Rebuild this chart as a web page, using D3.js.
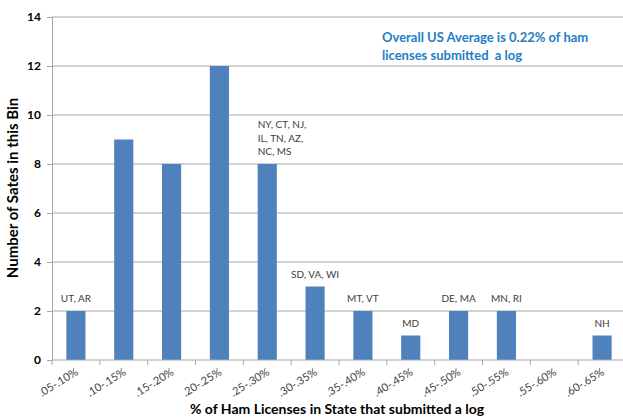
<!DOCTYPE html>
<html>
<head>
<meta charset="utf-8">
<script src="https://cdn.jsdelivr.net/npm/d3@7"></script>
<style>
  html, body { margin: 0; padding: 0; background: #fff; }
  svg { display: block; }
</style>
</head>
<body>
<svg id="chart" width="623" height="420"></svg>
<script>
// Histogram bins (% of licensees in a state that submitted a log)
const bins = [".05-.10%", ".10-.15%", ".15-.20%", ".20-.25%", ".25-.30%", ".30-.35%",
              ".35-.40%", ".40-.45%", ".45-.50%", ".50-.55%", ".55-.60%", ".60-.65%"];
// Number of states falling in each bin
const counts = [2, 9, 8, 12, 8, 3, 2, 1, 2, 2, 0, 1];
// State names noted above selected bins
const stateNotes = [
  { bin: ".05-.10%", lines: ["UT, AR"] },
  { bin: ".25-.30%", lines: ["NY, CT, NJ,", "IL, TN, AZ,", "NC, MS"], left: true },
  { bin: ".30-.35%", lines: ["SD, VA, WI"] },
  { bin: ".35-.40%", lines: ["MT, VT"] },
  { bin: ".40-.45%", lines: ["MD"] },
  { bin: ".45-.50%", lines: ["DE, MA"] },
  { bin: ".50-.55%", lines: ["MN, RI"] },
  { bin: ".60-.65%", lines: ["NH"] }
];
const yTicks = [0, 2, 4, 6, 8, 10, 12, 14];
const noteLines = ["Overall US Average is 0.22% of ham", "licenses submitted  a log"];

const svg = d3.select("#chart");
const m = { left: 52, right: 626, top: 17, bottom: 360 };
const font = "Lato, 'Open Sans', sans-serif";

const x = d3.scaleBand().domain(bins).range([m.left, m.right]).paddingInner(0.6).paddingOuter(0.3);
const xb = d3.scaleBand().domain(bins).range([m.left, m.right]);
const y = d3.scaleLinear().domain([0, 14]).range([m.bottom, m.top]);

// horizontal gridlines
svg.append("g")
  .selectAll("line").data(yTicks.filter(d => d > 0)).join("line")
  .attr("x1", m.left).attr("x2", 623)
  .attr("y1", d => y(d)).attr("y2", d => y(d))
  .attr("stroke", "#a6a6a6").attr("stroke-width", 1);

// y axis
const yAxis = svg.append("g").attr("transform", `translate(${m.left},0)`)
  .call(d3.axisLeft(y).tickValues(yTicks).tickSize(5).tickPadding(6));
yAxis.select(".domain").attr("stroke", "#a6a6a6");
yAxis.selectAll(".tick line").attr("stroke", "#a6a6a6");
yAxis.selectAll("text").attr("font-family", font).attr("font-weight", "bold")
  .attr("font-size", 12).attr("fill", "#000");

// bars
svg.append("g").selectAll("rect").data(bins).join("rect")
  .attr("x", d => x(d)).attr("width", x.bandwidth())
  .attr("y", (d, i) => y(counts[i]))
  .attr("height", (d, i) => y(0) - y(counts[i]))
  .attr("fill", "#4f81bd");

// x axis with ticks at bin boundaries
const xg = svg.append("g").attr("transform", `translate(0,${m.bottom})`);
xg.append("line").attr("x1", m.left).attr("x2", 623).attr("y1", 0).attr("y2", 0)
  .attr("stroke", "#a6a6a6");
xg.selectAll("line.tk").data(bins).join("line").attr("class", "tk")
  .attr("x1", d => xb(d)).attr("x2", d => xb(d)).attr("y1", 0).attr("y2", 5)
  .attr("stroke", "#a6a6a6");
xg.selectAll("text").data(bins).join("text")
  .attr("transform", d => `translate(${xb(d) + xb.bandwidth() / 2 + 3},${14}) rotate(-32)`)
  .attr("text-anchor", "end")
  .attr("font-family", font).attr("font-size", 11).attr("fill", "#404040")
  .text(d => d);

// state notes above bars
const notes = svg.append("g").attr("font-family", font).attr("font-size", 10).attr("fill", "#404040");
stateNotes.forEach(n => {
  const i = bins.indexOf(n.bin);
  const top = y(counts[i]);
  const t = notes.append("text")
    .attr("text-anchor", n.left ? "start" : "middle")
    .attr("x", n.left ? x(n.bin) : x(n.bin) + x.bandwidth() / 2);
  const nl = n.lines.length;
  n.lines.forEach((s, k) => {
    t.append("tspan").attr("x", n.left ? x(n.bin) : x(n.bin) + x.bandwidth() / 2)
      .attr("y", top - 9 - (nl - 1 - k) * 13.5).text(s);
  });
});

// average annotation
const ann = svg.append("text").attr("font-family", font).attr("font-weight", "bold")
  .attr("font-size", 13).attr("fill", "#1f7ec3");
noteLines.forEach((s, k) => ann.append("tspan").attr("x", 382).attr("y", 42 + k * 17.5)
  .attr("xml:space", "preserve").text(s));

// axis titles
svg.append("text")
  .attr("transform", `translate(18,${188}) rotate(-90)`)
  .attr("text-anchor", "middle").attr("font-family", font).attr("font-weight", "bold")
  .attr("font-size", 15).attr("fill", "#000")
  .text("Number of Sates in this Bin");
svg.append("text")
  .attr("x", 337).attr("y", 414)
  .attr("text-anchor", "middle").attr("font-family", font).attr("font-weight", "bold")
  .attr("font-size", 14).attr("fill", "#000")
  .text("% of Ham Licenses in State that submitted a log");
</script>
</body>
</html>
